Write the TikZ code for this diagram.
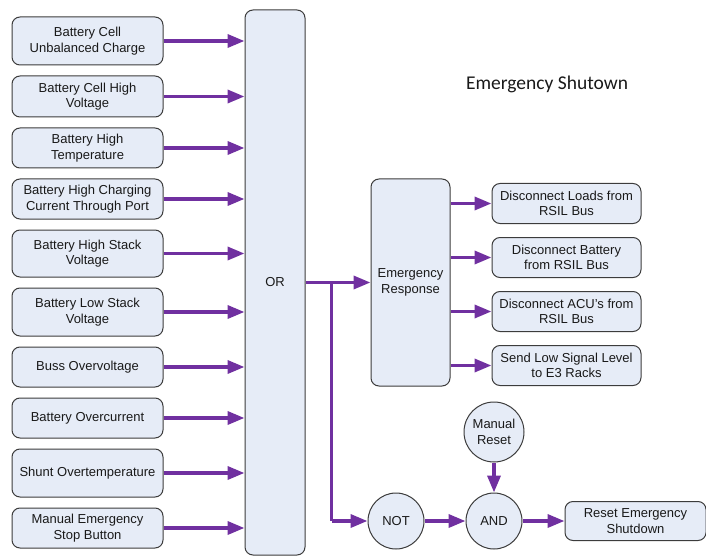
\documentclass[tikz,border=0pt]{standalone}
\usepackage{fontspec}
\setmainfont{Liberation Sans}
\newfontfamily\titlefont{Carlito}
\usetikzlibrary{positioning, arrows.meta}
\definecolor{boxfill}{HTML}{E6ECF7}
\definecolor{boxline}{HTML}{3C3C3C}
\definecolor{sigline}{HTML}{7030A0}

\begin{document}
\begin{tikzpicture}[x=1pt, y=-1pt, node distance=10pt,
  every node/.style={text=black!90, font=\fontsize{13}{15.7}\selectfont},
  box/.style={rectangle, rounded corners=8pt, draw=boxline, fill=boxfill, line width=1pt, align=center, inner sep=2pt},
  cause/.style={box, minimum width=151pt, minimum height=40pt},
  act/.style={box, minimum width=149pt, minimum height=40pt},
  gate/.style={circle, draw=boxline, fill=boxfill, line width=1pt, align=center, inner sep=0pt, minimum size=56pt},
  sig/.style={draw=sigline, line width=3.5pt, -{Triangle[length=17pt, width=13pt]}},
  wire/.style={draw=sigline, line width=3.5pt}]
  \useasboundingbox (0,0) rectangle (706,556);

  % causes
  \node[cause, minimum height=48pt] (c1) at (87.5,41) {Battery Cell\\Unbalanced Charge};
  \node[cause, minimum height=41pt, below=of c1] (c2) {Battery Cell High\\Voltage};
  \node[cause, below=of c2] (c3) {Battery High\\Temperature};
  \node[cause, below=of c3] (c4) {Battery High Charging\\Current Through Port};
  \node[cause, minimum height=47pt, below=of c4] (c5) {Battery High Stack\\Voltage};
  \node[cause, minimum height=48pt, below=of c5] (c6) {Battery Low Stack\\Voltage};
  \node[cause, below=of c6] (c7) {Buss Overvoltage};
  \node[cause, below=of c7] (c8) {Battery Overcurrent};
  \node[cause, minimum height=48pt, below=of c8] (c9) {Shunt Overtemperature};
  \node[cause, below=of c9] (c10) {Manual Emergency\\Stop Button};

  % gates and responses
  \node[box, minimum width=60pt, minimum height=545pt] (orgate) at (275,282.5) {OR};
  \node[box, minimum width=79pt, minimum height=207pt, right=65pt of orgate] (resp) {Emergency\\Response};
  \node[act] (a1) at (566.5,203.5) {Disconnect Loads from\\RSIL Bus};
  \node[act, below=13pt of a1] (a2) {Disconnect Battery\\from RSIL Bus};
  \node[act, below=13pt of a2] (a3) {Disconnect ACU's from\\RSIL Bus};
  \node[act, below=13pt of a3] (a4) {Send Low Signal Level\\to E3 Racks};

  \node[gate] (notgate) at (396,521) {NOT};
  \node[gate, right=41pt of notgate] (andgate) {AND};
  \node[gate, minimum size=60pt, above=30pt of andgate] (manual) {Manual\\Reset};
  \node[box, minimum width=141pt, minimum height=39pt, right=42pt of andgate] (reset) {Reset Emergency\\Shutdown};

  \node[font=\titlefont\fontsize{19.5}{23}\selectfont] (title) at (547,84) {Emergency Shutown};

  % signals
  \foreach \c in {c1,c2,c3,c4,c5,c6,c7,c8,c9,c10}
    \draw[sig] (\c.east) -- (\c.east -| orgate.west);
  \draw[sig] (orgate.east) -- (orgate.east -| resp.west);
  \foreach \a in {a1,a2,a3,a4}
    \draw[sig] (resp.east |- \a) -- (\a.west);
  \coordinate[right=26pt of orgate.east] (split);
  \draw[wire] (split) -- (split |- notgate);
  \draw[sig] (split |- notgate) -- (notgate.west);
  \draw[sig] (notgate) -- (andgate);
  \draw[sig] (manual) -- (andgate);
  \draw[sig] (andgate) -- (reset);
\end{tikzpicture}
\end{document}
